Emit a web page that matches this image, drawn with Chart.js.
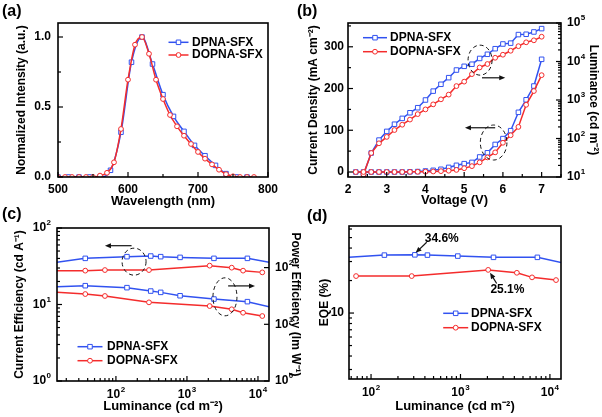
<!DOCTYPE html>
<html>
<head>
<meta charset="utf-8">
<script src="https://cdn.jsdelivr.net/npm/chart.js@4.4.0/dist/chart.umd.min.js"></script>
<style>
  body { margin: 0; background: #fff; }
  #wrap { position: relative; width: 602px; height: 417px; overflow: hidden; }
  canvas { position: absolute; }
  .tag { position: absolute; font: bold 16px "Liberation Sans", Arial, sans-serif; line-height: 16px; color: #000; }
</style>
</head>
<body>
<div id="wrap">
  <canvas id="chartA" width="301" height="212" style="left:0;top:0"></canvas>
  <canvas id="chartB" width="301" height="212" style="left:301px;top:0"></canvas>
  <canvas id="chartC" width="301" height="211" style="left:0;top:206px"></canvas>
  <canvas id="chartD" width="301" height="211" style="left:301px;top:206px"></canvas>
  <div class="tag" style="left:2px;top:3px">(a)</div>
  <div class="tag" style="left:297px;top:3px">(b)</div>
  <div class="tag" style="left:2px;top:206px">(c)</div>
  <div class="tag" style="left:307px;top:208px">(d)</div>
</div>
<script>
// (a) photoluminescence spectra
const wlBlue = [500, 515, 530, 545, 560, 575, 590, 605, 620, 635, 650, 665, 680, 695, 710, 725, 740, 755, 770];
const plBlue = [0, 0, 0, 0, 0, 0.048, 0.32, 0.82, 1.0, 0.807, 0.588, 0.433, 0.326, 0.226, 0.152, 0.083, 0.024, 0, 0];
const wlRed = [500, 510, 520, 530, 540, 550, 560, 570, 580, 590, 600, 610, 620, 630, 640, 650, 660, 670, 680, 690, 700, 710, 720, 730, 740, 750, 760, 770, 780];
const plRed = [0, 0, 0, 0, 0, 0, 0.01, 0.03, 0.105, 0.343, 0.695, 0.945, 1.0, 0.88, 0.695, 0.557, 0.443, 0.362, 0.295, 0.236, 0.179, 0.131, 0.09, 0.052, 0.02, 0.005, 0, 0, 0];

// (b) J-V-L
const volt = [2.2, 2.4, 2.6, 2.8, 3.0, 3.2, 3.4, 3.6, 3.8, 4.0, 4.2, 4.4, 4.6, 4.8, 5.0, 5.2, 5.4, 5.6, 5.8, 6.0, 6.2, 6.4, 6.6, 6.8, 7.0];
const jBlue = [0, 0, 0, 0, 0, 0, 0, 0.5, 1, 2.4, 4, 6.5, 11, 16, 20, 23, 36, 46, 66, 80, 99, 143, 173, 206, 270];
const jRed = [0, 0, 0, 0, 0, 0, 0, 0.3, 0.5, 0.8, 1.2, 2, 3, 5, 9, 14, 23, 35, 47, 70, 88, 108, 161, 194, 232];
const lumBlue = [null, 11.7, 42, 91, 153, 235, 333, 466, 630, 1000, 1700, 2560, 3800, 6000, 7500, 8500, 12000, 15400, 21500, 28500, 30000, 50000, 51000, 58500, 71500];
const lumRed = [null, 11.7, 42, 75, 110, 166, 228, 310, 430, 570, 770, 1040, 1380, 2300, 3000, 4700, 7000, 8600, 12500, 15000, 19000, 25000, 31500, 35500, 44000];

// (c) current / power efficiency vs luminance
const effLumBlue = [8, 37, 143, 309, 427, 800, 2400, 7100, 20000];
const ceBlue = [32.8, 40.1, 42.2, 43, 42.2, 41.3, 40.1, 40.1, 33.6];
const peBlue = [44.7, 48, 44.3, 38.6, 36.6, 31.9, 27.9, 25.1, 18.5];
const effLumRed = [10, 37, 70, 292, 2090, 4270, 6170, 11500];
const ceRed = [27.7, 27.7, 28.2, 28.2, 32.2, 30.3, 27.7, 26.3];
const peRed = [37.7, 34.2, 31.6, 24.4, 21, 18.4, 16, 14];

// (d) EQE vs luminance
const eqeLumBlue = [38, 141, 309, 427, 933, 2340, 7240, 16000];
const eqeBlue = [32.1, 34.4, 34.6, 34.4, 33.7, 32.8, 32.8, 28.5];
const eqeLumRed = [68, 285, 2040, 4270, 6310, 11700];
const eqeRed = [22.0, 22.0, 25.1, 23.6, 21.4, 20.2];

const BLUE = '#3152f0';
const RED = '#f42c2c';
const FONT = '"Liberation Sans", Arial, sans-serif';

function xy(xs, ys) {
    return xs.map((x, i) => ({ x: x, y: ys[i] }));
}

function series(label, xs, ys, color, shape, extra) {
    return Object.assign({
        label: label,
        data: xy(xs, ys),
        borderColor: color,
        backgroundColor: '#fff',
        borderWidth: 1.5,
        pointStyle: shape,
        pointRadius: shape === 'rect' ? 3.2 : 2.4,
        pointBorderWidth: 1,
        pointBorderColor: color,
        pointBackgroundColor: '#fff',
        order: color === RED ? 1 : 2
    }, extra || {});
}

function linTicks(min, max, step) {
    const out = [];
    for (let k = Math.ceil(min / step - 1e-9); k * step <= max + 1e-9; k++) {
        out.push(+(k * step).toFixed(6));
    }
    return out;
}

function logTicks(min, max, minors) {
    const out = [];
    for (let e = Math.floor(Math.log10(min)); e <= Math.ceil(Math.log10(max)); e++) {
        for (let m = 1; m < 10; m++) {
            if (!minors && m > 1) break;
            const v = m * Math.pow(10, e);
            if (v >= min * 0.999 && v <= max * 1.001) out.push(v);
        }
    }
    return out;
}

function isPow10(v) {
    const e = Math.log10(v);
    return Math.abs(e - Math.round(e)) < 1e-6;
}

function axis(o) {
    return {
        type: o.type || 'linear',
        position: o.position,
        min: o.min,
        max: o.max,
        bounds: 'data',
        grid: { display: false, drawTicks: false },
        border: { display: false },
        afterFit: function(s) {
            if (s.isHorizontal()) s.height = o.size; else s.width = o.size;
        },
        afterBuildTicks: function(s) {
            s.ticks = o.values.map(v => ({ value: v }));
        },
        ticks: {
            autoSkip: false,
            maxRotation: 0,
            minRotation: 0,
            padding: o.tickPad || 5,
            color: '#000',
            font: { family: FONT, size: 12, weight: 'bold' },
            callback: o.label || (() => '')
        },
        title: {
            display: !!o.title,
            text: o.title,
            color: '#000',
            font: { family: FONT, size: o.titleSize || 12, weight: 'bold', lineHeight: 1.15 },
            padding: o.titlePad || 0
        },
        marks: o.marks
    };
}

function drawPow(ctx, x, y, e, align) {
    ctx.font = 'bold 12px ' + FONT;
    const wb = ctx.measureText('10').width;
    ctx.font = 'bold 8px ' + FONT;
    const we = ctx.measureText(String(e)).width;
    const w = wb + we + 0.5;
    const x0 = align === 'right' ? x - w : align === 'center' ? x - w / 2 : x;
    ctx.textAlign = 'left';
    ctx.textBaseline = 'middle';
    ctx.font = 'bold 12px ' + FONT;
    ctx.fillText('10', x0, y);
    ctx.font = 'bold 8px ' + FONT;
    ctx.fillText(String(e), x0 + wb + 0.5, y - 5);
}

// inward ticks, power-of-ten labels and the box
const framePlugin = {
    id: 'frame',
    afterDraw(chart) {
        const ctx = chart.ctx;
        const a = chart.chartArea;
        ctx.save();
        ctx.strokeStyle = '#000';
        ctx.fillStyle = '#000';
        ctx.lineWidth = 1.2;
        Object.values(chart.scales).forEach(s => {
            const m = s.options.marks;
            if (!m) return;
            s.ticks.forEach(t => {
                const v = t.value;
                const major = m.kind === 'log' ? isPow10(v) : Math.abs(v / m.step - Math.round(v / m.step)) < 1e-6;
                const len = major ? 5 : 3;
                const p = s.getPixelForValue(v);
                ctx.beginPath();
                if (s.position === 'bottom') {
                    ctx.moveTo(p, a.bottom); ctx.lineTo(p, a.bottom - len);
                } else if (s.position === 'left') {
                    ctx.moveTo(a.left, p); ctx.lineTo(a.left + len, p);
                } else {
                    ctx.moveTo(a.right, p); ctx.lineTo(a.right - len, p);
                }
                ctx.stroke();
                if (major && m.sup) {
                    const e = Math.round(Math.log10(v));
                    if (s.position === 'bottom') drawPow(ctx, p, a.bottom + 13.5, e, 'center');
                    else if (s.position === 'left') drawPow(ctx, a.left - 6, p, e, 'right');
                    else drawPow(ctx, a.right + 6, p, e, 'left');
                }
            });
        });
        ctx.lineWidth = 1.6;
        ctx.strokeRect(a.left, a.top, a.right - a.left, a.bottom - a.top);
        ctx.restore();
    }
};

// legend drawn inside the plot
const legendPlugin = {
    id: 'inLegend',
    afterDraw(chart, args, o) {
        if (!o.rows) return;
        const ctx = chart.ctx;
        ctx.save();
        o.rows.forEach((di, i) => {
            const ds = chart.data.datasets[di];
            const y = o.y + i * o.gap;
            ctx.strokeStyle = ds.borderColor;
            ctx.lineWidth = ds.borderWidth;
            ctx.beginPath();
            ctx.moveTo(o.x - o.half, y);
            ctx.lineTo(o.x + o.half, y);
            ctx.stroke();
            ctx.fillStyle = '#fff';
            ctx.lineWidth = ds.pointBorderWidth;
            ctx.beginPath();
            if (ds.pointStyle === 'rect') {
                const h = ds.pointRadius * Math.SQRT1_2;
                ctx.rect(o.x - h, y - h, 2 * h, 2 * h);
            } else {
                ctx.arc(o.x, y, ds.pointRadius, 0, Math.PI * 2);
            }
            ctx.fill();
            ctx.stroke();
            ctx.fillStyle = '#000';
            ctx.font = 'bold 12px ' + FONT;
            ctx.textAlign = 'left';
            ctx.textBaseline = 'middle';
            ctx.fillText(ds.label, o.textX, y);
        });
        ctx.restore();
    }
};

// dashed circles, arrows and value notes, placed in data units
const notesPlugin = {
    id: 'notes',
    afterDraw(chart, args, o) {
        const ctx = chart.ctx;
        const sx = chart.scales.x;
        const sy = chart.scales.y;
        ctx.save();
        ctx.strokeStyle = '#111';
        ctx.fillStyle = '#111';
        (o.ellipses || []).forEach(e => {
            ctx.setLineDash([4, 3]);
            ctx.lineWidth = 1;
            ctx.beginPath();
            ctx.ellipse(sx.getPixelForValue(e.x), sy.getPixelForValue(e.y), e.rx, e.ry, 0, 0, Math.PI * 2);
            ctx.stroke();
        });
        ctx.setLineDash([]);
        (o.arrows || []).forEach(r => {
            const x1 = sx.getPixelForValue(r.x1), y1 = sy.getPixelForValue(r.y1);
            const x2 = sx.getPixelForValue(r.x2), y2 = sy.getPixelForValue(r.y2);
            const ang = Math.atan2(y2 - y1, x2 - x1);
            ctx.lineWidth = 1.2;
            ctx.beginPath();
            ctx.moveTo(x1, y1);
            ctx.lineTo(x2 - 4 * Math.cos(ang), y2 - 4 * Math.sin(ang));
            ctx.stroke();
            ctx.beginPath();
            ctx.moveTo(x2, y2);
            ctx.lineTo(x2 - 6 * Math.cos(ang) + 2.5 * Math.sin(ang), y2 - 6 * Math.sin(ang) - 2.5 * Math.cos(ang));
            ctx.lineTo(x2 - 6 * Math.cos(ang) - 2.5 * Math.sin(ang), y2 - 6 * Math.sin(ang) + 2.5 * Math.cos(ang));
            ctx.closePath();
            ctx.fill();
        });
        ctx.fillStyle = '#000';
        ctx.font = 'bold 12px ' + FONT;
        ctx.textAlign = 'center';
        ctx.textBaseline = 'middle';
        (o.texts || []).forEach(t => {
            ctx.fillText(t.text, sx.getPixelForValue(t.x), sy.getPixelForValue(t.y));
        });
        ctx.restore();
    }
};

Chart.register(framePlugin, legendPlugin, notesPlugin);

function baseOptions(padding, scales, plugins) {
    return {
        responsive: false,
        animation: false,
        events: [],
        layout: { padding: padding },
        plugins: Object.assign({ legend: { display: false }, tooltip: { enabled: false } }, plugins),
        scales: scales
    };
}

// ---------- (a) ----------
new Chart(document.getElementById('chartA'), {
    type: 'line',
    data: {
        datasets: [
            series('DPNA-SFX', wlBlue, plBlue, BLUE, 'rect', { cubicInterpolationMode: 'monotone' }),
            series('DOPNA-SFX', wlRed, plRed, RED, 'circle', { cubicInterpolationMode: 'monotone' })
        ]
    },
    options: baseOptions({ top: 23, right: 33, left: 0, bottom: 0 }, {
        x: axis({ position: 'bottom', min: 500, max: 800, size: 35, values: linTicks(500, 800, 50),
            label: v => (v % 100 === 0 ? String(v) : ''), title: 'Wavelength (nm)', titleSize: 13,
            titlePad: { bottom: 2.8 }, marks: { kind: 'lin', step: 100 } }),
        y: axis({ position: 'left', min: 0, max: 1.1, size: 58, values: linTicks(0, 1.1, 0.25), tickPad: 7,
            label: v => (Math.abs(v * 2 - Math.round(v * 2)) < 1e-6 ? v.toFixed(1) : ''),
            title: 'Normalized Intensity (a.u.)', titlePad: { top: 14.5 }, marks: { kind: 'lin', step: 0.5 } })
    }, {
        inLegend: { rows: [0, 1], x: 178.5, half: 10, textX: 192, y: 42.3, gap: 12.7 }
    })
});

// ---------- (b) ----------
new Chart(document.getElementById('chartB'), {
    type: 'line',
    data: {
        datasets: [
            series('DPNA-SFX', volt, jBlue, BLUE, 'rect', { yAxisID: 'y' }),
            series('DOPNA-SFX', volt, jRed, RED, 'circle', { yAxisID: 'y' }),
            series('DPNA-SFX', volt, lumBlue, BLUE, 'rect', { yAxisID: 'y2' }),
            series('DOPNA-SFX', volt, lumRed, RED, 'circle', { yAxisID: 'y2' })
        ]
    },
    options: baseOptions({ top: 23, right: 0, left: 0, bottom: 0 }, {
        x: axis({ position: 'bottom', min: 2, max: 7.5, size: 35, values: linTicks(2, 7.5, 0.5),
            label: v => (Number.isInteger(v) ? String(v) : ''), title: 'Voltage (V)', titleSize: 13,
            titlePad: { bottom: 4.5 }, marks: { kind: 'lin', step: 1 } }),
        y: axis({ position: 'left', min: -12, max: 357, size: 47, values: linTicks(-12, 357, 50), tickPad: 4,
            label: v => (v % 100 === 0 ? String(v) : ''), title: 'Current Density (mA cm\u207B\u00B2)',
            titlePad: { top: 5.5 }, marks: { kind: 'lin', step: 100 } }),
        y2: axis({ type: 'logarithmic', position: 'right', min: 10, max: 1e5, size: 41, values: logTicks(10, 1e5, true),
            title: 'Luminance (cd m\u207B\u00B2)', titlePad: { top: 1.8 }, marks: { kind: 'log', sup: true } })
    }, {
        inLegend: { rows: [0, 1], x: 74, half: 12, textX: 89, y: 37.7, gap: 14 },
        notes: {
            ellipses: [{ x: 5.41, y: 268, rx: 12, ry: 15 }, { x: 5.76, y: 70.6, rx: 13.3, ry: 17.5 }],
            arrows: [{ x1: 5.46, y1: 225.7, x2: 6.06, y2: 225.7 }, { x1: 5.8, y1: 106, x2: 5.02, y2: 106 }]
        }
    })
});

// ---------- (c) ----------
new Chart(document.getElementById('chartC'), {
    type: 'line',
    data: {
        datasets: [
            series('DPNA-SFX', effLumBlue, ceBlue, BLUE, 'rect', { yAxisID: 'y' }),
            series('DOPNA-SFX', effLumRed, ceRed, RED, 'circle', { yAxisID: 'y' }),
            series('DPNA-SFX', effLumBlue, peBlue, BLUE, 'rect', { yAxisID: 'y2' }),
            series('DOPNA-SFX', effLumRed, peRed, RED, 'circle', { yAxisID: 'y2' })
        ]
    },
    options: baseOptions({ top: 22, right: 0, left: 0, bottom: 0 }, {
        x: axis({ type: 'logarithmic', position: 'bottom', min: 14.8, max: 14300, size: 36, values: logTicks(14.8, 14300, true),
            title: 'Luminance (cd m\u207B\u00B2)', titleSize: 13, titlePad: { bottom: 2.8 }, marks: { kind: 'log', sup: true } }),
        y: axis({ type: 'logarithmic', position: 'left', min: 1, max: 100, size: 57, values: logTicks(1, 100, true),
            title: 'Current Efficiency (cd A\u207B\u00B9)', titlePad: { top: 13.2 }, marks: { kind: 'log', sup: true } }),
        y2: axis({ type: 'logarithmic', position: 'right', min: 1, max: 500, size: 32, values: logTicks(1, 500, false),
            title: 'Power Efficiency (lm W\u207B\u00B9)', titlePad: { top: -1.5 }, marks: { kind: 'log', sup: true } })
    }, {
        inLegend: { rows: [0, 1], x: 90, half: 12.5, textX: 107, y: 140.7, gap: 14 },
        notes: {
            ellipses: [{ x: 180, y: 36.3, rx: 12, ry: 13.5 }, { x: 3430, y: 12.6, rx: 12, ry: 19 }],
            arrows: [{ x1: 166, y1: 58.7, x2: 70, y2: 58.7 }, { x1: 3800, y1: 17.5, x2: 9080, y2: 17.5 }]
        }
    })
});

// ---------- (d) ----------
new Chart(document.getElementById('chartD'), {
    type: 'line',
    data: {
        datasets: [
            series('DPNA-SFX', eqeLumBlue, eqeBlue, BLUE, 'rect'),
            series('DOPNA-SFX', eqeLumRed, eqeRed, RED, 'circle')
        ]
    },
    options: baseOptions({ top: 20, right: 41, left: 0, bottom: 0 }, {
        x: axis({ type: 'logarithmic', position: 'bottom', min: 56.7, max: 13300, size: 38, values: logTicks(56.7, 13300, true),
            title: 'Luminance (cd m\u207B\u00B2)', titleSize: 13, titlePad: { bottom: 2.8 }, marks: { kind: 'log', sup: true } }),
        y: axis({ type: 'logarithmic', position: 'left', min: 2.45, max: 64, size: 48, values: logTicks(2.45, 64, true),
            tickPad: 5, label: v => (isPow10(v) ? String(Math.round(v)) : ''), title: 'EQE (%)',
            titlePad: { top: 16.5 }, marks: { kind: 'log' } })
    }, {
        inLegend: { rows: [0, 1], x: 154.7, half: 12.5, textX: 170, y: 107.3, gap: 14.4 },
        notes: {
            arrows: [{ x1: 419, y1: 45.2, x2: 315, y2: 36.1 }, { x1: 2540, y1: 18.8, x2: 2140, y2: 23.6 }],
            texts: [{ x: 617, y: 49.2, text: '34.6%' }, { x: 3350, y: 16.3, text: '25.1%' }]
        }
    })
});
</script>
</body>
</html>
